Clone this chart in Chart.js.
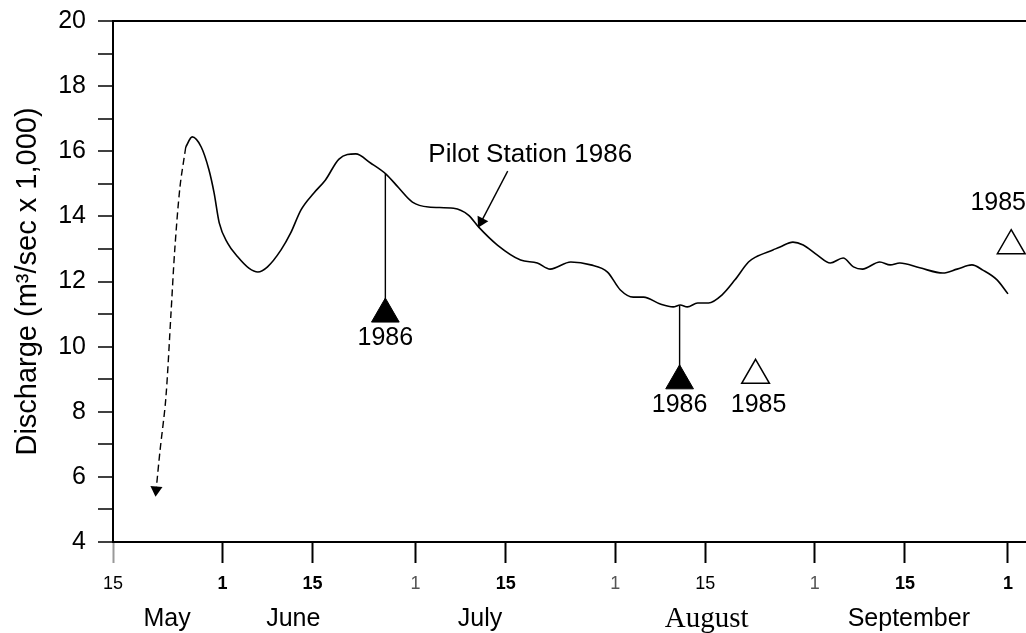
<!DOCTYPE html>
<html>
<head>
<meta charset="utf-8">
<script src="https://cdn.jsdelivr.net/npm/chart.js@4.4.1/dist/chart.umd.min.js"></script>
<style>
  html, body { margin: 0; padding: 0; background: #fff; overflow: hidden; }
  #wrap { width: 1026px; height: 633px; }
  canvas { display: block; }
</style>
</head>
<body>
<div id="wrap"><canvas id="myChart" width="1026" height="633"></canvas></div>
<script>
// x values are days counted from May 15
const tickDays = [0, 17, 31, 47, 61, 78, 92, 109, 123, 139];
const tickLabels = ['15', '1', '15', '1', '15', '1', '15', '1', '15', '1'];
const monthDays = [8.4, 28, 57, 92.2, 123.6];
const monthNames = ['May', 'June', 'July', 'August', 'September'];

// Pilot Station 1986 discharge (m3/sec x 1,000)
const flowDays = [11.3, 12.3, 13.7, 14.9, 15.7, 16.5, 17.8, 19.4, 21.1, 22.5,
  24.0, 26.1, 27.6, 29.2, 31.2, 33.0, 35.1, 37.7, 40.0, 42.4,
  44.4, 46.5, 49.0, 52.9, 55.2, 56.8, 59.7, 63.3, 65.9, 67.9,
  71.1, 74.2, 76.8, 78.8, 80.8, 82.4, 85.0, 87.0, 88.1, 89.2,
  90.8, 92.5, 94.6, 96.6, 98.7, 99.8, 102.5, 103.6, 105.6, 107.2,
  109.4, 111.4, 113.4, 115.0, 116.4, 119.1, 120.7, 122.2, 125.3, 128.9,
  131.1, 133.4, 135.1, 137.3, 139.0];
const flowValues = [16.13, 16.44, 16.13, 15.43, 14.72, 13.80, 13.18, 12.75, 12.41, 12.29,
  12.45, 12.97, 13.49, 14.20, 14.72, 15.12, 15.76, 15.92, 15.64, 15.30,
  14.87, 14.44, 14.29, 14.25, 14.04, 13.67, 13.12, 12.66, 12.57, 12.38,
  12.60, 12.51, 12.29, 11.74, 11.52, 11.52, 11.31, 11.22, 11.28, 11.22,
  11.34, 11.34, 11.59, 12.05, 12.60, 12.75, 12.97, 13.06, 13.21, 13.12,
  12.81, 12.57, 12.72, 12.45, 12.38, 12.60, 12.51, 12.57, 12.42, 12.26,
  12.38, 12.51, 12.35, 12.05, 11.62];

// dashed rising limb (arrow end)
const dashDays = [11.3, 10.4, 9.6, 9.0, 8.2, 7.3, 6.7];
const dashValues = [16.13, 14.9, 13.0, 11.0, 8.4, 6.8, 5.6];

// 1986 observations with stems from the hydrograph
const stemDays = [42.3, 88.0];
const stemTop = [15.3, 11.26];
const obs1986 = [11.0, 8.95];

// 1985 observations
const obs1985Days = [99.8, 139.5];
const obs1985 = [9.12, 13.1];

const noteText = 'Pilot Station 1986';
const noteAnchor = [64.8, 15.89];
const noteArrowDays = [61.3, 57.2];
const noteArrowValues = [15.39, 13.84];

const FONT = '"Liberation Sans", Arial, Helvetica, sans-serif';
const SERIF = '"Liberation Serif", "Times New Roman", serif';
const tickWeight = ['normal', 'bold', 'bold', 'normal', 'bold', 'normal', 'normal', 'normal', 'bold', 'bold'];
const tickColor = ['#000', '#000', '#000', '#555', '#000', '#555', '#000', '#555', '#000', '#000'];

const pts = (xs, ys) => xs.map((d, i) => ({ x: d, y: ys[i] }));
const noPad = scale => { scale.paddingLeft = 0; scale.paddingRight = 0; scale.paddingTop = 0; scale.paddingBottom = 0; };

const datasets = [
  {
    data: pts(flowDays, flowValues),
    borderColor: '#000', borderWidth: 1.6,
    pointRadius: 0, cubicInterpolationMode: 'monotone'
  },
  {
    data: pts(dashDays, dashValues),
    borderColor: '#000', borderWidth: 1.4, borderDash: [7, 4],
    tension: 0.3,
    pointRadius: ctx => ctx.dataIndex === dashDays.length - 1 ? 7 : 0,
    pointStyle: 'triangle', pointRotation: 185,
    pointBackgroundColor: '#000', pointBorderColor: '#000', pointBorderWidth: 0
  },
  {
    data: pts(noteArrowDays, noteArrowValues),
    borderColor: '#000', borderWidth: 1.4,
    pointRadius: [0, 7], pointStyle: 'triangle', pointRotation: 208,
    pointBackgroundColor: '#000', pointBorderWidth: 0
  }
];

stemDays.forEach((d, i) => {
  datasets.push({
    data: [{ x: d, y: stemTop[i] }, { x: d, y: obs1986[i] }],
    borderColor: '#000', borderWidth: 1.4, pointRadius: 0
  });
});

datasets.push({
  data: pts(stemDays, obs1986),
  showLine: false,
  pointStyle: 'triangle', pointRadius: 16,
  pointBackgroundColor: '#000', pointBorderColor: '#000', pointBorderWidth: 1
});
datasets.push({
  data: pts(obs1985Days, obs1985),
  showLine: false, clip: false,
  pointStyle: 'triangle', pointRadius: 16,
  pointBackgroundColor: '#fff', pointBorderColor: '#000', pointBorderWidth: 1.5
});

const textLabels = {
  id: 'textLabels',
  afterDatasetsDraw(chart) {
    const { ctx, scales: { x, y } } = chart;
    ctx.save();
    ctx.fillStyle = '#000';
    ctx.textAlign = 'center';
    ctx.textBaseline = 'middle';
    ctx.font = '25px ' + FONT;
    obs1986.forEach((v, i) => {
      ctx.fillText('1986', x.getPixelForValue(stemDays[i]), y.getPixelForValue(v) + 24);
    });
    ctx.fillText('1985', x.getPixelForValue(obs1985Days[0]) + 3, y.getPixelForValue(obs1985[0]) + 30);
    ctx.fillText('1985', x.getPixelForValue(obs1985Days[1]) - 13, y.getPixelForValue(obs1985[1]) - 43);
    ctx.font = '26px ' + FONT;
    ctx.fillText(noteText, x.getPixelForValue(noteAnchor[0]), y.getPixelForValue(noteAnchor[1]));
    ctx.restore();
  }
};

const ctx = document.getElementById('myChart').getContext('2d');
const myChart = new Chart(ctx, {
  type: 'line',
  data: { datasets: datasets },
  plugins: [textLabels],
  options: {
    responsive: false,
    animation: false,
    devicePixelRatio: 1,
    layout: { autoPadding: false, padding: { top: 21, left: 0, right: 0, bottom: 0 } },
    plugins: { legend: { display: false }, tooltip: { enabled: false } },
    scales: {
      x: {
        type: 'linear', min: 0, max: 141.8, position: 'bottom',
        afterBuildTicks: scale => { scale.ticks = tickDays.map(v => ({ value: v })); },
        afterFit: scale => { scale.height = 47; noPad(scale); },
        border: { color: '#000', width: 2 },
        grid: {
          drawOnChartArea: false, tickLength: 21, tickWidth: 2,
          tickColor: c => c.index === 0 ? '#999' : '#000'
        },
        ticks: {
          autoSkip: false, maxRotation: 0, padding: 10,
          callback: (v, i) => tickLabels[i],
          color: c => tickColor[c.index],
          font: c => ({ size: 18, family: FONT, weight: tickWeight[c.index] })
        }
      },
      months: {
        type: 'linear', min: 0, max: 141.8, position: 'bottom', weight: 1,
        afterBuildTicks: scale => { scale.ticks = monthDays.map(v => ({ value: v })); },
        afterFit: scale => { scale.height = 44; noPad(scale); },
        border: { display: false },
        grid: { display: false },
        ticks: {
          autoSkip: false, maxRotation: 0, padding: 7, color: '#000',
          callback: (v, i) => monthNames[i],
          font: c => c.index === 3 ? { size: 29, family: SERIF, lineHeight: 1.05 } : { size: 25, family: FONT }
        }
      },
      y: {
        min: 4, max: 20,
        afterFit: scale => { scale.width = 113; noPad(scale); },
        border: { color: '#000', width: 2 },
        grid: {
          drawOnChartArea: true,
          color: c => (c.tick && c.tick.value === 20) ? '#000' : 'rgba(0,0,0,0)',
          lineWidth: 2, tickColor: '#000', tickLength: 15, tickWidth: 1.5
        },
        ticks: {
          stepSize: 1, autoSkip: false, padding: 12, color: '#000',
          font: { size: 25, family: FONT },
          callback: v => (v % 2 === 0 ? v : '')
        },
        title: {
          display: true, text: 'Discharge (m³/sec x 1,000)', color: '#000',
          font: { size: 29, family: FONT },
          padding: { top: 11, bottom: 0 }
        }
      }
    }
  }
});
</script>
</body>
</html>
